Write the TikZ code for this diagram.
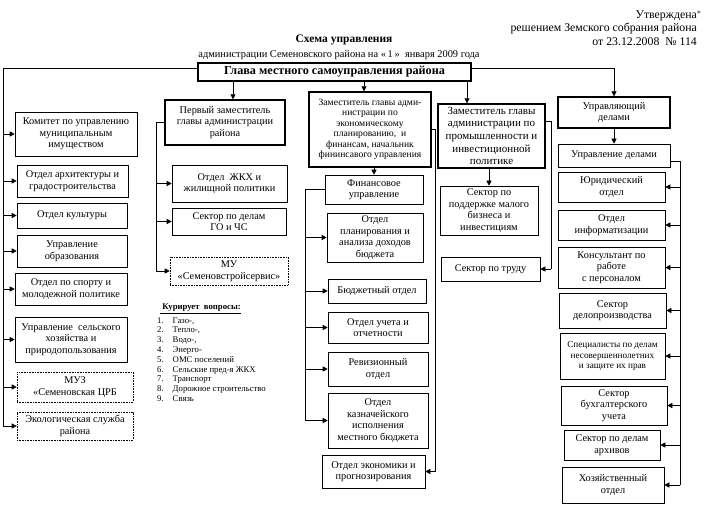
\documentclass[tikz,border=0pt]{standalone}
\usepackage{fontspec}
\setmainfont{Liberation Serif}
\usetikzlibrary{arrows.meta,calc}
\newcommand{\fA}{\fontsize{10.3}{11.5}\selectfont}
\newcommand{\fB}{\fontsize{9.6}{10.5}\selectfont}
\newcommand{\fC}{\fontsize{9.2}{10.5}\selectfont}
\newcommand{\fL}{\fontsize{8.7}{9.8}\selectfont}
\newcommand{\bx}[7][]{\node[box,#1,minimum width={(#4-#2)*1pt},minimum height={(#5-#3)*1pt}] (#6) at ({(#2+#4)/2},{(#3+#5)/2}) {#7};}
\tikzset{
  box/.style={draw, line width=0.6pt, inner sep=1pt, align=center, font=\fA},
  thick box/.style={line width=1.3pt},
  dot box/.style={dash pattern=on 0.8pt off 0.8pt},
  ln/.style={line width=0.6pt},
  arr/.style={line width=0.6pt, -{Triangle[length=5pt,width=5pt]}}
}
\begin{document}
\begin{tikzpicture}[x=1pt,y=-1pt]
\fill[white] (0,0) rectangle (709,510);
\useasboundingbox (0,0) rectangle (709,510);
% header
\node[font=\fontsize{11.8}{13.5}\selectfont, anchor=east, align=right, inner sep=0pt] (appr) at (697,28) {Утверждена\rlap{$^{*}$}\\решением Земского собрания района\\от 23.12.2008\ \ № 114};
\node[font=\fontsize{11.5}{13}\selectfont\bfseries] (title) at (344,40) {Схема управления};
\node[font=\fontsize{10.4}{11}\selectfont] (subt) at (339,55) {администрации Семеновского района на «\,1\,»\ \ января 2009 года};
\bx[thick box, font=\fontsize{12.2}{13}\selectfont\bfseries]{198}{63}{471}{81}{glava}{Глава местного самоуправления района}
% column 1
\bx{15}{112}{137}{156}{kom}{Комитет по управлению\\муниципальным\\имуществом}
\bx{17}{165}{128}{197}{arh}{Отдел архитектуры и\\градостроительства}
\bx{17}{203}{127}{228}{kul}{Отдел культуры}
\bx{17}{235}{127}{267}{obr}{Управление\\образования}
\bx{15}{273}{127}{305}{sport}{Отдел по спорту и\\молодежной политике}
\bx{15}{317}{127}{362}{sh}{Управление\ \ сельского\\хозяйства и\\природопользования}
\bx[dot box]{17}{372}{133}{402}{muz}{МУЗ\\«Семеновская ЦРБ}
\bx[dot box]{17}{412}{133}{440}{eko}{Экологическая служба\\района}
% column 2
\bx[thick box]{165}{100}{285}{145}{perv}{Первый заместитель\\главы администрации\\района}
\bx{172}{165}{287}{202}{zhkh}{Отдел\ \ ЖКХ и\\жилищной политики}
\bx{172}{208}{286}{235}{go}{Сектор по делам\\ГО и ЧС}
\bx[dot box]{170}{257}{288}{285}{mu}{МУ\\«Семеновстройсервис»}
\node[anchor=west, font=\fL\bfseries, inner sep=0pt] (kurt) at (160,309) {\underline{\ Курирует\ \ вопросы:}};
\node[anchor=north west, font=\fL, inner sep=0pt] (kur) at (157,316) {\begin{tabular}{@{}l@{\hspace{9pt}}l@{}}
1. & Газо-,\\ 2. & Тепло-,\\ 3. & Водо-,\\ 4. & Энерго-\\ 5. & ОМС поселений\\ 6. & Сельские пред-я ЖКХ\\ 7. & Транспорт\\ 8. & Дорожное строительство\\ 9. & Связь
\end{tabular}};
% column 3
\bx[thick box, font=\fB]{309}{92}{431}{167}{zam3}{Заместитель главы адми-\\нистрации по\\экономическому\\планированию,\ \ и\\финансам, начальник\\фининсавого управления}
\bx{325}{175}{423}{204}{fin}{Финансовое\\управление}
\bx{327}{213}{423}{262}{plan}{Отдел\\планирования и\\анализа доходов\\бюджета}
\bx{328}{279}{426}{303}{bud}{Бюджетный отдел}
\bx{328}{312}{428}{343}{uch}{Отдел учета и\\отчетности}
\bx{328}{352}{428}{386}{rev}{Ревизионный\\отдел}
\bx{328}{393}{428}{448}{kaz}{Отдел\\казначейского\\исполнения\\местного бюджета}
\bx{322}{455}{425}{488}{ekon}{Отдел экономики и\\прогнозирования}
% column 4
\bx[thick box, font=\fontsize{11}{12.6}\selectfont]{438}{104}{545}{168}{zam4}{Заместитель главы\\администрации по\\промышленности и\\инвестиционной\\политике}
\bx{440}{186}{538}{235}{pod}{Сектор по\\поддержке малого\\бизнеса и\\инвестициям}
\bx{441}{257}{540}{281}{trud}{Сектор по труду}
% column 5
\bx[thick box]{558}{97}{670}{128}{upr}{Управляющий\\делами}
\bx{558}{144}{670}{167}{upd}{Управление делами}
\bx{558}{172}{665}{202}{yur}{Юридический\\отдел}
\bx{558}{210}{665}{240}{inf}{Отдел\\информатизации}
\bx{558}{247}{665}{288}{kons}{Консультант по\\работе\\с персоналом}
\bx{559}{293}{666}{328}{delo}{Сектор\\делопроизводства}
\bx[font=\fC]{560}{333}{665}{379}{spec}{Специалисты по делам\\несовершеннолетних\\и защите их прав}
\bx{561}{386}{667}{425}{buh}{Сектор\\бухгалтерского\\учета}
\bx{564}{430}{660}{460}{arh2}{Сектор по делам\\архивов}
\bx{562}{467}{664}{503}{hoz}{Хозяйственный\\отдел}
% connectors
\coordinate (LL) at (3,0);
\coordinate (X2) at (233,0);
\coordinate (X3) at (364,0);
\coordinate (X4) at (467,0);
\coordinate (L2) at (156,0);
\coordinate (L3) at (305,0);
\coordinate (R3) at (435,0);
\coordinate (R4) at (551,0);
\coordinate (R5) at (680,0);
\draw[ln] ($(glava.north west)!0.3!(glava.south west)$) -| (LL |- eko.west);
\foreach \n in {kom,arh,kul,obr,sport,sh,muz,eko} \draw[arr] (LL |- \n.west) -- (\n.west);
\draw[arr] ($(glava.north east)!0.3!(glava.south east)$) -| (upr.north);
\draw[arr] (glava.south -| X2) -- (X2 |- perv.north);
\draw[arr] (glava.south -| X3) -- (X3 |- zam3.north);
\draw[arr] (glava.south -| X4) -- (X4 |- zam4.north);
\draw[ln] (perv.west) -| (L2 |- mu.west);
\foreach \n in {zhkh,go,mu} \draw[arr] (L2 |- \n.west) -- (\n.west);
\draw[arr] (zam3.south -| fin.north) -- (fin.north);
\draw[ln] (fin.west) -| (L3 |- kaz.west);
\foreach \n in {plan,bud,uch,rev,kaz} \draw[arr] (L3 |- \n.west) -- (\n.west);
\draw[ln] (zam3.east) -| (R3 |- ekon.east);
\draw[arr] (R3 |- ekon.east) -- (ekon.east);
\draw[arr] (zam4.south -| pod.north) -- (pod.north);
\draw[ln] ($(zam4.north east)!0.27!(zam4.south east)$) -| (R4 |- trud.east);
\draw[arr] (R4 |- trud.east) -- (trud.east);
\draw[arr] (upr.south) -- (upd.north);
\draw[ln] ($(upd.north east)!0.75!(upd.south east)$) -| (R5 |- hoz.east);
\foreach \n in {yur,inf,kons,delo,spec,buh,arh2,hoz} \draw[arr] (R5 |- \n.east) -- (\n.east);
\end{tikzpicture}
\end{document}
